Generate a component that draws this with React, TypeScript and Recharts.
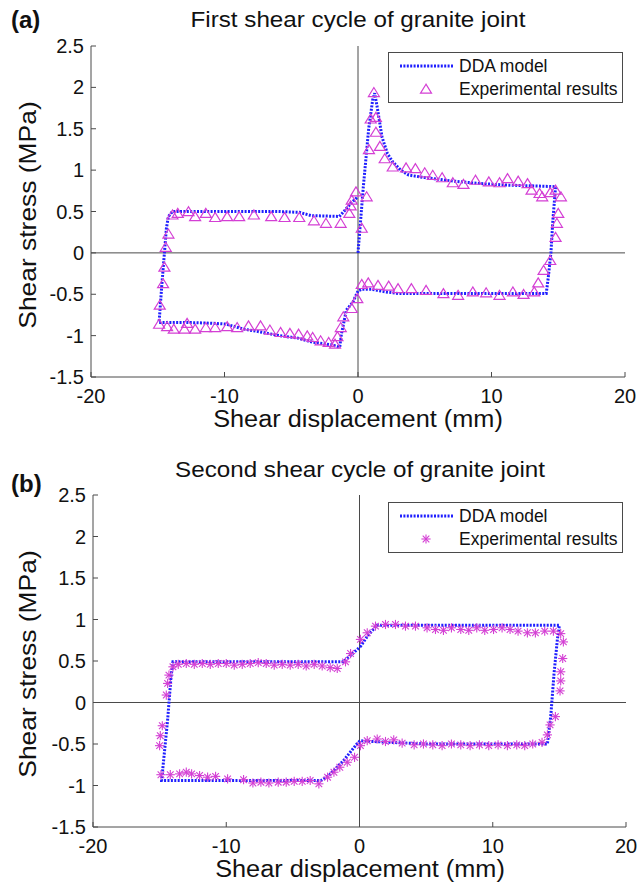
import { ComposedChart, Line, ReferenceLine, Scatter, XAxis, YAxis } from "recharts";

type Pt = { x: number; y: number };

const BLUE = "#1f1fff";
const MAGENTA = "#d43fd4";
const AXIS = "#4a4a4a";
const FONT = "'Liberation Sans', Arial, sans-serif";

const xTicks = [-20, -10, 0, 10, 20];
const yTicks = [-1.5, -1, -0.5, 0, 0.5, 1, 1.5, 2, 2.5];

// (a) first cycle, DDA model path in loading order
const ddaFirst = [
  [0, 0], [0.4, 0.8], [0.8, 1.5], [1.1, 1.85], [1.25, 1.93], [1.45, 1.75], [1.8, 1.4],
  [2.2, 1.2], [2.6, 1.1], [3.2, 1.0], [3.8, 0.94], [5, 0.91], [7, 0.87], [9, 0.84],
  [11, 0.82], [13, 0.81], [14.8, 0.8], [14.6, 0.4], [14.45, 0], [14.25, -0.3], [14.1, -0.49],
  [10, -0.49], [6, -0.49], [3, -0.49], [2, -0.47], [1, -0.44], [0.3, -0.44], [0, -0.46],
  [-0.4, -0.6], [-0.87, -0.69], [-1.24, -0.98], [-1.37, -1.14], [-2, -1.11], [-3.4, -1.08],
  [-4.5, -1.03], [-5.9, -1.0], [-7.5, -0.95], [-8.6, -0.92], [-9.9, -0.86], [-11, -0.85],
  [-13, -0.84], [-14.9, -0.84], [-14.7, -0.4], [-14.5, 0], [-14.35, 0.3], [-14.2, 0.44],
  [-13.9, 0.5], [-10, 0.5], [-6, 0.5], [-4.4, 0.49], [-3.5, 0.45], [-1.4, 0.44],
  [-0.9, 0.53], [-0.4, 0.62], [0, 0.68],
];

// (a) experimental triangles
const expFirst = [
  [0.28, 0.3], [0.65, 0.68], [0.82, 1.25], [0.95, 1.62], [1.19, 1.94], [1.34, 1.64],
  [1.34, 1.46], [1.64, 1.29], [2.0, 1.14], [2.6, 1.04], [3.6, 1.03], [4.3, 1.02], [5.0, 0.97],
  [5.6, 0.94], [6.3, 0.91], [7.1, 0.85], [7.9, 0.83], [8.8, 0.88], [9.8, 0.86], [10.6, 0.85],
  [11.2, 0.9], [12.0, 0.87], [12.7, 0.84], [13.0, 0.76], [13.6, 0.72], [13.8, 0.68],
  [14.4, 0.73], [14.8, 0.76], [15.2, 0.68], [15.0, 0.48], [14.9, 0.36], [14.8, 0.19],
  [14.4, -0.09], [13.9, -0.21], [13.5, -0.36], [13.2, -0.47], [12.4, -0.5], [11.6, -0.47],
  [10.6, -0.51], [9.6, -0.48], [8.6, -0.47], [7.5, -0.51], [6.4, -0.49], [5.1, -0.45],
  [4.0, -0.43], [3.0, -0.43], [2.3, -0.4], [1.5, -0.39], [0.77, -0.36], [0.28, -0.38],
  [-0.05, -0.55], [-0.47, -0.67], [-1.1, -0.77], [-1.29, -0.9], [-1.54, -1.01], [-1.72, -1.1],
  [-2.2, -1.08], [-2.8, -1.06], [-3.4, -1.02], [-3.8, -1.0], [-4.45, -0.98], [-5.1, -0.97],
  [-5.8, -0.96], [-6.6, -0.93], [-7.3, -0.88], [-8.2, -0.88], [-9.05, -0.9], [-9.8, -0.89],
  [-10.7, -0.9], [-11.4, -0.9], [-12.2, -0.92], [-12.8, -0.85], [-13.0, -0.92], [-13.8, -0.92],
  [-14.3, -0.89], [-14.9, -0.86], [-14.85, -0.63], [-14.6, -0.37], [-14.5, -0.17],
  [-14.4, 0.07], [-14.2, 0.23], [-13.9, 0.46], [-13.5, 0.48], [-12.7, 0.5], [-12.2, 0.44],
  [-11.4, 0.48], [-10.7, 0.43], [-9.8, 0.44], [-8.9, 0.44], [-7.8, 0.46], [-6.5, 0.44],
  [-5.5, 0.43], [-4.4, 0.43], [-3.3, 0.39], [-2.4, 0.36], [-1.3, 0.36], [-0.65, 0.48],
  [-0.55, 0.57], [-0.47, 0.64], [-0.15, 0.74],
];

// (b) second cycle, DDA model path
const ddaSecond = [
  [0.05, 0.67], [0.6, 0.8], [1.3, 0.93], [5, 0.93], [10, 0.93], [15, 0.93], [14.85, 0.76],
  [14.6, 0.35], [14.35, -0.17], [14.1, -0.5], [10, -0.5], [5, -0.5], [1, -0.47], [0.05, -0.46],
  [-0.2, -0.5], [-1.2, -0.7], [-2.3, -0.88], [-2.9, -0.94], [-8, -0.94], [-14.85, -0.94],
  [-14.4, -0.21], [-14.15, 0.3], [-14.0, 0.49], [-8, 0.49], [-1.2, 0.49], [-0.8, 0.55],
  [0.05, 0.67],
];

// (b) experimental asterisks
const expSecond = [
  [0.07, 0.76], [0.58, 0.84], [1.2, 0.92], [1.95, 0.94], [2.7, 0.94], [3.45, 0.92], [4.2, 0.92],
  [5.07, 0.9], [5.7, 0.88], [6.3, 0.87], [6.9, 0.9], [7.6, 0.88], [8.2, 0.87], [8.8, 0.9],
  [9.4, 0.87], [10.06, 0.88], [10.7, 0.9], [11.3, 0.88], [11.9, 0.86], [12.6, 0.84],
  [13.2, 0.84], [13.9, 0.86], [14.55, 0.86], [15.1, 0.83], [15.3, 0.73], [15.25, 0.53],
  [15.1, 0.37], [15.1, 0.26], [15.05, 0.14], [14.7, -0.17], [14.3, -0.27], [14.1, -0.39],
  [13.7, -0.48], [13.0, -0.5], [12.4, -0.52], [11.8, -0.51], [11.1, -0.52], [10.4, -0.51],
  [9.7, -0.52], [9.0, -0.51], [8.3, -0.52], [7.6, -0.51], [6.9, -0.5], [6.2, -0.52],
  [5.5, -0.51], [4.8, -0.5], [4.1, -0.51], [3.2, -0.49], [2.57, -0.45], [1.95, -0.47],
  [1.33, -0.44], [0.58, -0.46], [0.07, -0.52], [-0.37, -0.66], [-0.92, -0.72], [-1.48, -0.78],
  [-1.92, -0.84], [-2.4, -0.9], [-3.05, -0.98], [-3.7, -0.94], [-4.3, -0.95], [-4.9, -0.95],
  [-5.5, -0.96], [-6.1, -0.96], [-6.8, -0.97], [-7.4, -0.96], [-8.0, -0.97], [-8.7, -0.93],
  [-9.9, -0.92], [-10.8, -0.89], [-11.4, -0.9], [-12.0, -0.88], [-12.6, -0.86], [-13.0, -0.84],
  [-13.5, -0.86], [-14.2, -0.87], [-14.9, -0.87], [-15.0, -0.52], [-14.95, -0.4],
  [-14.8, -0.28], [-14.5, 0.09], [-14.4, 0.23], [-14.3, 0.33], [-14.0, 0.43], [-13.6, 0.46],
  [-13.0, 0.47], [-12.4, 0.46], [-11.8, 0.47], [-11.2, 0.46], [-10.6, 0.47], [-10.0, 0.47],
  [-9.4, 0.45], [-8.8, 0.46], [-8.2, 0.47], [-7.6, 0.48], [-7.0, 0.47], [-6.4, 0.45],
  [-5.8, 0.46], [-5.2, 0.45], [-4.6, 0.46], [-4.0, 0.44], [-3.4, 0.46], [-2.8, 0.44],
  [-2.2, 0.42], [-1.67, 0.41], [-1.05, 0.49], [-0.67, 0.59],
];

const toPts = (rows: number[][]): Pt[] => rows.map(([x, y]) => ({ x, y }));

// biome-ignore lint/suspicious/noExplicitAny: recharts shape props are runtime-shaped.
function TriangleMark({ cx, cy }: any) {
  if (cx == null || cy == null) return null;
  const r = 5.5;
  return (
    <polygon
      points={`${cx},${cy - 4.8} ${cx - r},${cy + 4.2} ${cx + r},${cy + 4.2}`}
      fill="none"
      stroke={MAGENTA}
      strokeWidth={1.2}
    />
  );
}

// biome-ignore lint/suspicious/noExplicitAny: recharts shape props are runtime-shaped.
function AsteriskMark({ cx, cy }: any) {
  if (cx == null || cy == null) return null;
  const r = 4.6;
  const d = r * 0.72;
  return (
    <g stroke={MAGENTA} strokeWidth={1.1}>
      <line x1={cx - r} y1={cy} x2={cx + r} y2={cy} />
      <line x1={cx} y1={cy - r} x2={cx} y2={cy + r} />
      <line x1={cx - d} y1={cy - d} x2={cx + d} y2={cy + d} />
      <line x1={cx - d} y1={cy + d} x2={cx + d} y2={cy - d} />
    </g>
  );
}

type PanelProps = {
  tag: string;
  tagTop: number;
  title: string;
  titleTop: number;
  dda: number[][];
  exp: number[][];
  marker: "triangle" | "asterisk";
  top: number;
  height: number;
  plot: { left: number; right: number; top: number; bottom: number };
  legendTop: number;
};

const W = 637;
const Y_AXIS_W = 60;
const X_AXIS_H = 30;

const textBase = {
  position: "absolute" as const,
  lineHeight: 1,
  fontFamily: FONT,
  color: "#111",
  textAlign: "center" as const,
  whiteSpace: "nowrap" as const,
};

function Panel({ tag, tagTop, title, titleTop, dda, exp, marker, top, height, plot, legendTop }: PanelProps) {
  const Mark = marker === "triangle" ? TriangleMark : AsteriskMark;
  const plotMidX = (plot.left + plot.right) / 2;
  const plotMidY = (plot.top + plot.bottom) / 2;
  const tickStyle = { fontSize: 20, fill: "#111", fontFamily: FONT };

  return (
    <>
      <div style={{ ...textBase, left: 11, top: tagTop, fontSize: 24, fontWeight: 700 }}>{tag}</div>
      <div
        style={{
          ...textBase,
          left: plotMidX - 250,
          width: 500,
          top: titleTop,
          fontSize: 22,
          transform: "scaleX(1.1)",
        }}
      >
        {title}
      </div>
      <div style={{ position: "absolute", left: 0, top }}>
        <ComposedChart
          width={W}
          height={height}
          margin={{
            top: plot.top - top,
            right: W - plot.right,
            bottom: top + height - plot.bottom - X_AXIS_H,
            left: plot.left - Y_AXIS_W,
          }}
        >
          <XAxis
            type="number"
            dataKey="x"
            domain={[-20, 20]}
            ticks={xTicks}
            allowDataOverflow
            height={X_AXIS_H}
            stroke={AXIS}
            tickSize={-5}
            tickMargin={17}
            tick={tickStyle}
          />
          <XAxis
            xAxisId="top"
            orientation="top"
            type="number"
            domain={[-20, 20]}
            ticks={xTicks}
            allowDataOverflow
            height={0}
            stroke={AXIS}
            tickSize={-5}
            tick={false}
          />
          <YAxis
            type="number"
            dataKey="y"
            domain={[-1.5, 2.5]}
            ticks={yTicks}
            allowDataOverflow
            width={Y_AXIS_W}
            stroke={AXIS}
            tickSize={-5}
            tickMargin={12}
            tick={tickStyle}
          />
          <YAxis
            yAxisId="right"
            orientation="right"
            type="number"
            domain={[-1.5, 2.5]}
            ticks={yTicks}
            allowDataOverflow
            width={0}
            stroke={AXIS}
            tickSize={-5}
            tick={false}
          />
          <ReferenceLine x={0} stroke={AXIS} strokeWidth={1} />
          <ReferenceLine y={0} stroke={AXIS} strokeWidth={1} />
          <Line
            data={toPts(dda)}
            dataKey="y"
            type="linear"
            stroke={BLUE}
            strokeWidth={3}
            strokeDasharray="2 1.4"
            dot={false}
            activeDot={false}
            isAnimationActive={false}
          />
          <Scatter data={toPts(exp)} dataKey="y" shape={<Mark />} isAnimationActive={false} />
        </ComposedChart>
      </div>
      <div
        style={{
          ...textBase,
          left: plotMidX - 200,
          width: 400,
          top: plot.bottom + 31,
          fontSize: 23,
          transform: "scaleX(1.1)",
        }}
      >
        Shear displacement (mm)
      </div>
      <div
        style={{
          ...textBase,
          left: 28 - 150,
          width: 300,
          top: plotMidY + 3 - 12,
          fontSize: 24,
          transform: "rotate(-90deg) scaleX(1.1)",
        }}
      >
        Shear stress (MPa)
      </div>
      <div
        style={{
          position: "absolute",
          left: 388,
          top: legendTop,
          width: 235,
          height: 51,
          border: `1px solid ${AXIS}`,
          background: "#fff",
          boxSizing: "border-box",
          fontFamily: FONT,
          fontSize: 17.5,
          color: "#111",
        }}
      >
        <svg width={70} height={49} style={{ position: "absolute", left: 0, top: 0 }}>
          <line x1={11} y1={13} x2={64} y2={13} stroke={BLUE} strokeWidth={3} strokeDasharray="2 1.4" />
          <Mark cx={37} cy={36} />
        </svg>
        <div style={{ position: "absolute", left: 70, top: 4, lineHeight: "18px" }}>DDA model</div>
        <div style={{ position: "absolute", left: 70, top: 27, lineHeight: "18px" }}>Experimental results</div>
      </div>
    </>
  );
}

export default function App() {
  return (
    <div style={{ position: "absolute", left: 0, top: 0, width: W, height: 883, background: "#fff", overflow: "hidden" }}>
      <Panel
        tag="(a)"
        tagTop={8}
        title="First shear cycle of granite joint"
        titleTop={9}
        dda={ddaFirst}
        exp={expFirst}
        marker="triangle"
        top={0}
        height={440}
        plot={{ left: 91, right: 625, top: 46, bottom: 377 }}
        legendTop={52}
      />
      <Panel
        tag="(b)"
        tagTop={472}
        title="Second shear cycle of granite joint"
        titleTop={459}
        dda={ddaSecond}
        exp={expSecond}
        marker="asterisk"
        top={449}
        height={434}
        plot={{ left: 93, right: 626, top: 495, bottom: 827 }}
        legendTop={502}
      />
    </div>
  );
}
